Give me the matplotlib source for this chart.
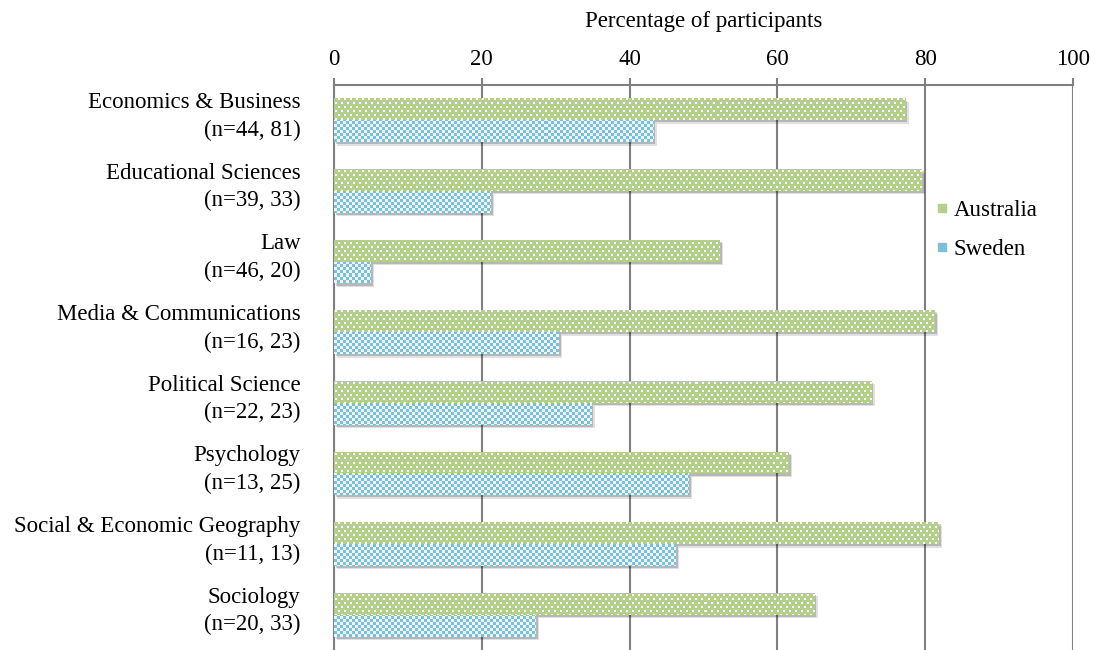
import matplotlib
matplotlib.use("Agg")
import matplotlib.pyplot as plt
import matplotlib.patheffects as pe
import matplotlib.transforms as mtransforms
from matplotlib.lines import Line2D
import numpy as np

categories = ["Economics & Business", "Educational Sciences", "Law",
              "Media & Communications", "Political Science", "Psychology",
              "Social & Economic Geography", "Sociology"]
n_australia = [44, 39, 46, 16, 22, 13, 11, 20]
n_sweden = [81, 33, 20, 23, 23, 25, 13, 33]
australia = [77.3, 79.5, 52.2, 81.3, 72.7, 61.5, 81.8, 65.0]
sweden = [43.2, 21.2, 5.0, 30.4, 34.8, 48.0, 46.2, 27.3]
xticks = [0, 20, 40, 60, 80, 100]

GREEN = np.array([179, 207, 138]) / 255.0
BLUE = np.array([124, 192, 216]) / 255.0
LIGHT = np.array([236, 246, 250]) / 255.0
GRID = "#7f7f7f"

plt.rcParams["font.family"] = ["Liberation Serif", "DejaVu Serif"]
plt.rcParams["font.size"] = 16.5

fig = plt.figure(figsize=(10.96, 6.5), dpi=100)
ax = fig.add_axes([334 / 1096, 0.0, (1073 - 334) / 1096, 1 - 85 / 650])

W, H = 739, 565


def dot_pattern():
    img = np.ones((H, W, 3)) * GREEN
    for r in range(1, H, 4):
        off = 1 if (r // 4) % 2 == 0 else 4
        for c in range(off, W, 6):
            img[r:r + 2, c:c + 2] = 1.0
    return img


def checker_pattern():
    yy, xx = np.mgrid[0:H, 0:W]
    mask = ((yy // 3) + (xx // 3)) % 2 == 0
    img = np.ones((H, W, 3)) * LIGHT
    img[mask] = BLUE
    return img


y = np.arange(len(categories))
h = 0.31
shadow = [pe.SimplePatchShadow(offset=(2.5, -2.5), shadow_rgbFace="k", alpha=0.12),
          pe.SimplePatchShadow(offset=(1.5, -1.5), shadow_rgbFace="k", alpha=0.18),
          pe.Normal()]

bars_a = ax.barh(y - h / 2, australia, height=h, color=GREEN, lw=0, zorder=2)
bars_s = ax.barh(y + h / 2, sweden, height=h, color=BLUE, lw=0, zorder=2)

ymin, ymax = -0.5, len(categories) - 0.5
pat_a = dot_pattern()
pat_s = checker_pattern()
for bars, pat in [(bars_a, pat_a), (bars_s, pat_s)]:
    for b in bars:
        b.set_path_effects(shadow)
        im = ax.imshow(pat, extent=(0, 100, ymax, ymin), aspect="auto",
                       interpolation="nearest", origin="upper", zorder=3)
        im.set_clip_path(b)

ax.set_xlim(0, 100)
ax.set_ylim(ymax, ymin)
ax.set_aspect("auto")

ax.xaxis.tick_top()
ax.xaxis.set_label_position("top")
ax.set_xticks(xticks)
ax.set_xlabel("Percentage of participants", labelpad=16)
ax.tick_params(axis="x", direction="out", length=5, width=1.5, color=GRID, pad=6)
ax.set_yticks(y)
ax.set_yticklabels(["%s\n(n=%d, %d)" % (c, a, s) for c, a, s in zip(categories, n_australia, n_sweden)],
                   linespacing=1.4)
ax.tick_params(axis="y", length=0, pad=24)
# labels sit a little above the bar pair in the original
shift = mtransforms.ScaledTranslation(0, 9.5 / 100, fig.dpi_scale_trans)
for lab in ax.get_yticklabels():
    lab.set_transform(lab.get_transform() + shift)

ax.xaxis.grid(True, color=GRID, lw=1.5, zorder=1)
ax.set_axisbelow(True)
for side in ["right", "bottom"]:
    ax.spines[side].set_visible(False)
ax.spines["top"].set_color(GRID)
ax.spines["top"].set_linewidth(1.5)
ax.spines["left"].set_color(GRID)
ax.spines["left"].set_linewidth(1.5)

handles = [Line2D([], [], ls="none", marker="s", markersize=6, color=GREEN),
           Line2D([], [], ls="none", marker="s", markersize=6, color=BLUE)]
ax.legend(handles, ["Australia", "Sweden"], loc="upper left",
          bbox_to_anchor=((924 - 334) / 739, (650 - 189) / 565), frameon=False,
          handlelength=0.6, handletextpad=0.2, labelspacing=0.75, borderpad=0)

fig.savefig("out.png", dpi=100)
